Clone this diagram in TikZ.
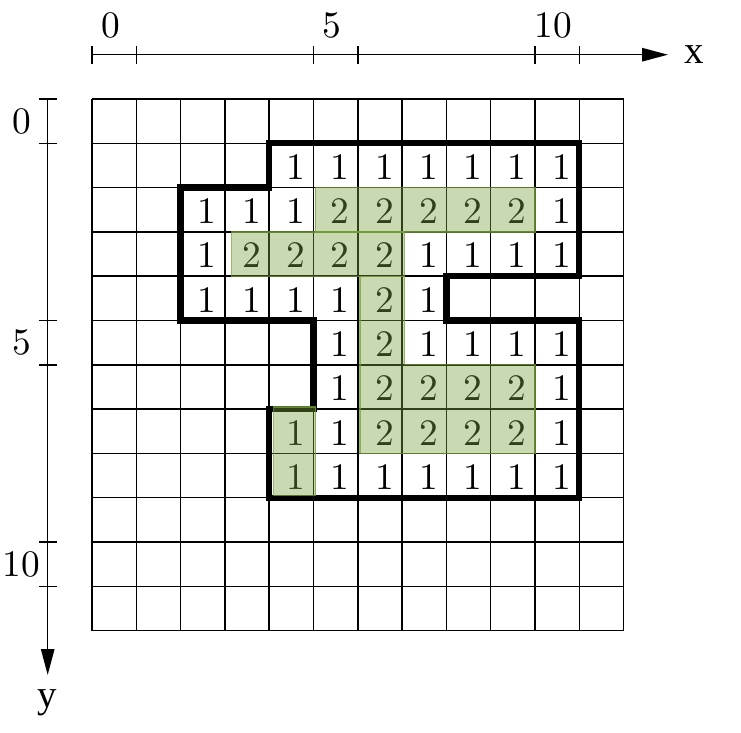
\documentclass[tikz,border=0pt]{standalone}
\usepackage{fontspec}
\newfontfamily\axisfont{Liberation Serif}
\newfontfamily\numfont[Extension=.otf]{lmroman10-regular}
\usetikzlibrary{arrows.meta}
\definecolor{cellgreen}{RGB}{120,160,60}

\begin{document}
\begin{tikzpicture}[x=1cm, y=-1cm, font=\numfont\fontsize{24}{28}\selectfont,
      gridline/.style={line width=1pt},
      region/.style={line width=4pt, line join=miter},
      axis/.style={line width=1pt, -{Triangle[length=0.58cm,width=0.3cm]}},
      axtick/.style={line width=1pt},
      num/.style={inner sep=0pt},
      axlabel/.style={inner sep=0pt, font=\axisfont\fontsize{25}{28}\selectfont},
      hilite/.style={fill=cellgreen, fill opacity=0.4, draw=cellgreen, draw opacity=0.75, line width=0.8pt}]
  \useasboundingbox (-2.077,-2.235) rectangle (14.65,14.31);
  \draw[gridline] (0,0) grid (12,12);

  \coordinate (xo) at (0,-1);
  \coordinate (xe) at (13,-1);
  \coordinate (yo) at (-1,0);
  \coordinate (ye) at (-1,13);
  \draw[axis] (xo) -- (xe);
  \draw[axis] (yo) -- (ye);
  \node[axlabel] (xlab) at (13.6,-1) {x};
  \node[axlabel] (ylab) at (-1,13.63) {y};
  \foreach \t in {0,1,5,6,10,11} {
    \draw[axtick] (\t,-1.2) -- (\t,-0.8);
    \draw[axtick] (-1.2,\t) -- (-0.8,\t);
  }
  \foreach \t in {0,5,10} {
    \node[num] (xt\t) at (\t+0.42,-1.67) {\t};
    \node[num] (yt\t) at (-1.59,\t+0.5) {\t};
  }

  \draw[region] (4,1) -- (11,1) -- (11,4) -- (8,4) -- (8,5) -- (11,5) -- (11,9) -- (4,9)
    -- (4,7) -- (5,7) -- (5,5) -- (2,5) -- (2,2) -- (4,2) -- cycle;

  \foreach \r/\vals in {1/{0,0,0,0,1,1,1,1,1,1,1},
                        2/{0,0,1,1,1,2,2,2,2,2,1},
                        3/{0,0,1,2,2,2,2,1,1,1,1},
                        4/{0,0,1,1,1,1,2,1,0,0,0},
                        5/{0,0,0,0,0,1,2,1,1,1,1},
                        6/{0,0,0,0,0,1,2,2,2,2,1},
                        7/{0,0,0,0,1,1,2,2,2,2,1},
                        8/{0,0,0,0,1,1,1,1,1,1,1}}
    \foreach \v [count=\c from 0] in \vals {
      \ifnum\v>0 \node[num] (n\r-\c) at (\c+0.6,\r+0.53) {\v};\fi
    }

  \draw[hilite] (5.04,2) rectangle (10,3);
  \draw[hilite] (3.15,3) rectangle (7.05,4);
  \draw[hilite] (6.05,4) -- (7.05,4) -- (7.05,6) -- (10,6) -- (10,8) -- (6.05,8) -- cycle;
  \draw[hilite] (4.1,6.95) rectangle (5.05,8.95);
\end{tikzpicture}
\end{document}
